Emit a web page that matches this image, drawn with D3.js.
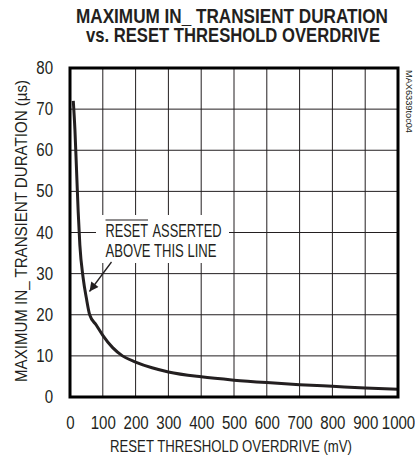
<!DOCTYPE html>
<html>
<head>
<meta charset="utf-8">
<script src="https://cdn.jsdelivr.net/npm/d3@7"></script>
<style>
  body { margin: 0; background: #fff; }
  text { font-family: "Liberation Sans", Arial, sans-serif; fill: #231f20; }
</style>
</head>
<body>
<div id="chart"></div>
<script>
// curve: overdrive (mV) -> max transient duration (us)
const overdrive = [10, 15, 20, 25, 30, 40, 50, 60, 80, 100, 130, 160, 200, 250, 300, 400, 500, 600, 700, 800, 900, 1000];
const duration  = [72, 65, 55, 45, 37, 29, 24, 20, 17.5, 15, 12, 10, 8.5, 7.1, 6.1, 4.9, 4.1, 3.5, 3.0, 2.6, 2.2, 1.9];
const xTicks = [0, 100, 200, 300, 400, 500, 600, 700, 800, 900, 1000];
const yTicks = [0, 10, 20, 30, 40, 50, 60, 70, 80];

const width = 415, height = 459;
const pLeft = 70, pRight = 398, pTop = 68, pBottom = 397;

// no condensed face installed, so narrow the text to the widths the reference uses
function squeeze(sel, k) {
  sel.each(function() {
    const w = this.getComputedTextLength();
    d3.select(this).attr("textLength", w * k).attr("lengthAdjust", "spacingAndGlyphs");
  });
}

const svg = d3.select("#chart").append("svg")
  .attr("width", width)
  .attr("height", height);

const x = d3.scaleLinear().domain([0, 1000]).range([pLeft, pRight]);
const y = d3.scaleLinear().domain([0, 80]).range([pBottom, pTop]);

// title
svg.append("text")
  .attr("x", 232).attr("y", 23)
  .attr("text-anchor", "middle")
  .attr("font-size", 21).attr("font-weight", "bold")
  .attr("textLength", 312).attr("lengthAdjust", "spacingAndGlyphs")
  .text("MAXIMUM IN_ TRANSIENT DURATION");
svg.append("text")
  .attr("x", 233).attr("y", 42)
  .attr("text-anchor", "middle")
  .attr("font-size", 21).attr("font-weight", "bold")
  .attr("textLength", 294).attr("lengthAdjust", "spacingAndGlyphs")
  .text("vs. RESET THRESHOLD OVERDRIVE");

// grid
const grid = svg.append("g").attr("stroke", "#231f20").attr("stroke-width", 1);
grid.selectAll("line.v")
  .data(xTicks.slice(1, -1))
  .enter().append("line")
  .attr("class", "v")
  .attr("x1", d => x(d)).attr("x2", d => x(d))
  .attr("y1", pTop).attr("y2", pBottom);
grid.selectAll("line.h")
  .data(yTicks.slice(1, -1))
  .enter().append("line")
  .attr("class", "h")
  .attr("x1", pLeft).attr("x2", pRight)
  .attr("y1", d => y(d)).attr("y2", d => y(d));

// label box blanks out the grid behind it
svg.append("rect")
  .attr("x", 96).attr("y", 215)
  .attr("width", 133).attr("height", 48)
  .attr("fill", "#fff");

// axes tick labels
svg.append("g")
  .attr("transform", `translate(0,${pBottom + 26})`)
  .call(d3.axisBottom(x).tickValues(xTicks).tickFormat(d3.format("d")).tickSize(0).tickPadding(0))
  .call(g => g.select(".domain").remove())
  .call(g => g.selectAll("text")
    .attr("font-size", 17.5)
    .attr("dy", "0.35em")
    .style("font-family", "Liberation Sans, sans-serif")
    .attr("fill", "#231f20")
    .call(squeeze, 0.86));

svg.append("g")
  .attr("transform", `translate(${pLeft - 17},0)`)
  .call(d3.axisLeft(y).tickValues(yTicks).tickSize(0).tickPadding(0))
  .call(g => g.select(".domain").remove())
  .call(g => g.selectAll("text")
    .attr("font-size", 17.5)
    .style("font-family", "Liberation Sans, sans-serif")
    .attr("fill", "#231f20")
    .call(squeeze, 0.86));

// axis titles
svg.append("text")
  .attr("x", 231).attr("y", 452)
  .attr("text-anchor", "middle")
  .attr("font-size", 17)
  .attr("textLength", 242).attr("lengthAdjust", "spacingAndGlyphs")
  .text("RESET THRESHOLD OVERDRIVE (mV)");

svg.append("text")
  .attr("transform", `translate(27,231) rotate(-90)`)
  .attr("text-anchor", "middle")
  .attr("font-size", 17)
  .attr("textLength", 302).attr("lengthAdjust", "spacingAndGlyphs")
  .text("MAXIMUM IN_ TRANSIENT DURATION (\u00b5s)");

svg.append("text")
  .attr("transform", `translate(406,70) rotate(90)`)
  .attr("font-size", 9)
  .attr("textLength", 63).attr("lengthAdjust", "spacingAndGlyphs")
  .text("MAX6339toc04");

// curve
const line = d3.line()
  .x((d, i) => x(overdrive[i]))
  .y(d => y(d))
  .curve(d3.curveMonotoneX);

svg.append("path")
  .datum(duration)
  .attr("fill", "none")
  .attr("stroke", "#231f20")
  .attr("stroke-width", 3)
  .attr("d", line);

// frame
svg.append("rect")
  .attr("x", pLeft).attr("y", pTop)
  .attr("width", pRight - pLeft).attr("height", pBottom - pTop)
  .attr("fill", "none")
  .attr("stroke", "#000")
  .attr("stroke-width", 3);

// annotation
svg.append("text").attr("font-size", 18)
  .attr("x", 105.5).attr("y", 237)
  .attr("textLength", 42.5).attr("lengthAdjust", "spacingAndGlyphs")
  .text("RESET");
svg.append("line")
  .attr("x1", 105.5).attr("x2", 148)
  .attr("y1", 220).attr("y2", 220)
  .attr("stroke", "#231f20").attr("stroke-width", 1.2);
svg.append("text").attr("font-size", 18)
  .attr("x", 152.5).attr("y", 237)
  .attr("textLength", 69).attr("lengthAdjust", "spacingAndGlyphs")
  .text("ASSERTED");
svg.append("text").attr("font-size", 18)
  .attr("x", 105.5).attr("y", 257)
  .attr("textLength", 111).attr("lengthAdjust", "spacingAndGlyphs")
  .text("ABOVE THIS LINE");

svg.append("defs").append("marker")
  .attr("id", "arrow")
  .attr("viewBox", "0 0 10 10")
  .attr("refX", 10).attr("refY", 5)
  .attr("markerWidth", 12).attr("markerHeight", 9)
  .attr("markerUnits", "userSpaceOnUse")
  .attr("orient", "auto")
  .append("path")
  .attr("d", "M0,0L10,5L0,10Z")
  .attr("fill", "#231f20");

svg.append("line")
  .attr("x1", 111.5).attr("y1", 262)
  .attr("x2", 89.5).attr("y2", 291.5)
  .attr("stroke", "#231f20")
  .attr("stroke-width", 1.3)
  .attr("marker-end", "url(#arrow)");
</script>
</body>
</html>
